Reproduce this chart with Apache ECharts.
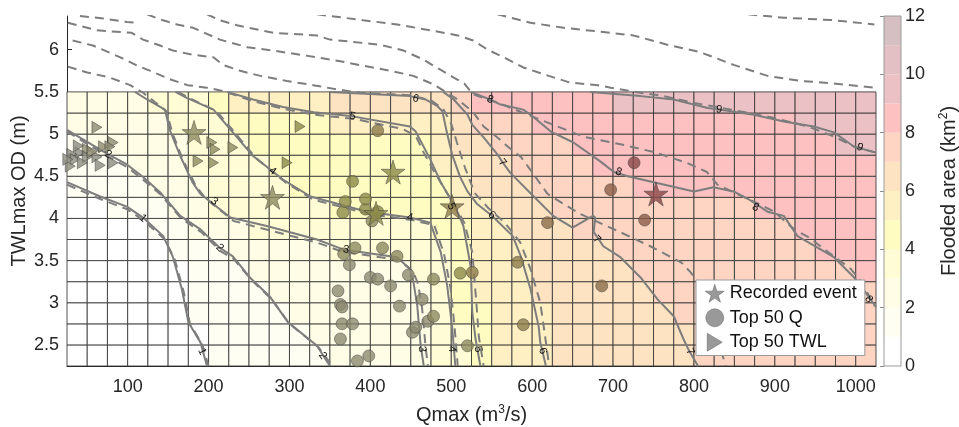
<!DOCTYPE html>
<html><head><meta charset="utf-8">
<script src="https://cdn.jsdelivr.net/npm/echarts@6/dist/echarts.min.js"></script>
<style>html,body{margin:0;padding:0;background:#fff}#c{width:959px;height:427px}</style>
</head><body><div id="c"></div>
<script>
// ---------- DATA ----------
const qCenters = [37.5,62.5,87.5,112.5,137.5,162.5,187.5,212.5,237.5,262.5,287.5,312.5,337.5,362.5,387.5,412.5,437.5,462.5,487.5,512.5,537.5,562.5,587.5,612.5,637.5,662.5,687.5,712.5,737.5,762.5,787.5,812.5,837.5,862.5,887.5,912.5,937.5,962.5,987.5,1012.5];
const twlCenters = [2.375,2.625,2.875,3.125,3.375,3.625,3.875,4.125,4.375,4.625,4.875,5.125,5.375];
// flooded area (km2) per cell, one row per TWL band (bottom to top)
const floodedArea = [
[0.10,0.24,0.37,0.51,0.64,0.78,0.91,1.06,1.24,1.41,1.59,1.77,1.95,2.13,2.33,2.52,2.71,2.90,3.31,3.93,4.78,5.24,5.55,5.87,6.08,6.22,6.36,6.50,6.64,6.78,6.91,7.03,7.12,7.20,7.29,7.37,7.46,7.54,7.63,7.71],
[0.15,0.29,0.43,0.57,0.71,0.85,0.99,1.19,1.39,1.59,1.79,1.99,2.15,2.31,2.47,2.62,2.78,2.94,3.37,3.99,4.90,5.28,5.59,5.91,6.10,6.25,6.39,6.54,6.69,6.83,6.98,7.08,7.17,7.26,7.35,7.44,7.54,7.63,7.72,7.81],
[0.22,0.35,0.49,0.62,0.76,0.89,1.04,1.27,1.49,1.72,1.95,2.11,2.25,2.39,2.53,2.67,2.82,2.96,3.44,4.09,4.98,5.32,5.65,5.98,6.15,6.31,6.47,6.62,6.78,6.94,7.06,7.16,7.25,7.35,7.44,7.54,7.63,7.73,7.82,7.92],
[0.28,0.41,0.54,0.67,0.80,0.93,1.12,1.39,1.66,1.93,2.09,2.22,2.35,2.47,2.60,2.73,2.85,2.98,3.53,4.20,5.01,5.36,5.72,6.03,6.21,6.38,6.56,6.73,6.91,7.05,7.14,7.24,7.33,7.42,7.52,7.61,7.71,7.80,7.90,7.99],
[0.35,0.47,0.60,0.72,0.84,0.97,1.23,1.56,1.88,2.08,2.20,2.32,2.45,2.57,2.69,2.82,2.94,3.24,3.73,4.33,5.04,5.42,5.81,6.10,6.30,6.50,6.70,6.90,7.05,7.14,7.23,7.33,7.42,7.52,7.61,7.71,7.80,7.90,7.99,8.10],
[0.45,0.56,0.68,0.79,0.90,1.07,1.51,1.95,2.17,2.36,2.55,2.74,2.93,3.11,3.28,3.45,3.62,3.79,3.96,4.51,5.12,5.54,5.95,6.21,6.45,6.69,6.93,7.07,7.17,7.27,7.37,7.47,7.56,7.66,7.76,7.86,7.96,8.05,8.13,8.22],
[0.60,0.71,0.81,0.92,1.10,1.60,2.09,2.49,2.89,3.08,3.20,3.31,3.42,3.53,3.65,3.76,3.87,3.99,4.38,4.81,5.33,5.92,6.28,6.60,6.92,7.07,7.16,7.24,7.33,7.42,7.51,7.60,7.69,7.78,7.87,7.95,8.04,8.13,8.22,8.31],
[0.80,0.91,1.08,1.41,1.73,2.09,2.59,3.03,3.22,3.41,3.59,3.78,3.96,4.12,4.27,4.42,4.57,4.72,4.86,5.08,5.98,6.32,6.64,6.96,7.08,7.18,7.28,7.37,7.47,7.57,7.66,7.76,7.85,7.95,8.04,8.11,8.19,8.27,8.35,8.42],
[1.10,1.34,1.59,1.83,2.12,2.55,2.97,3.21,3.44,3.67,3.89,4.07,4.19,4.32,4.45,4.57,4.70,4.83,4.96,5.61,6.22,6.59,6.97,7.16,7.34,7.52,7.70,7.87,8.02,8.08,8.14,8.20,8.26,8.32,8.38,8.44,8.51,8.57,8.63,8.69],
[1.52,1.75,1.97,2.25,2.54,2.83,3.12,3.40,3.68,3.96,4.10,4.21,4.33,4.44,4.56,4.67,4.79,4.90,5.12,5.95,6.42,6.86,7.15,7.37,7.58,7.80,8.00,8.07,8.14,8.21,8.28,8.35,8.42,8.49,8.56,8.62,8.69,8.76,8.83,8.90],
[1.97,2.13,2.34,2.55,2.76,2.97,3.27,3.59,3.91,4.08,4.19,4.30,4.41,4.52,4.63,4.74,4.86,4.97,5.47,6.12,6.73,7.15,7.41,7.68,7.95,8.06,8.13,8.20,8.28,8.35,8.42,8.49,8.56,8.64,8.71,8.78,8.85,8.92,9.01,9.07],
[2.20,2.36,2.53,2.69,2.86,3.05,3.45,3.85,4.12,4.31,4.50,4.70,4.89,5.07,5.24,5.40,5.57,5.74,5.90,6.37,7.09,7.42,7.74,8.02,8.11,8.21,8.30,8.40,8.49,8.59,8.68,8.77,8.84,8.90,8.94,8.97,9.02,9.16,9.25,9.34],
[2.45,2.61,2.78,2.94,3.32,3.82,3.90,4.64,5.02,5.21,5.41,5.61,5.80,6.00,6.18,6.36,6.54,6.71,6.89,7.29,8.01,8.18,8.34,8.51,8.68,8.85,8.97,9.06,9.11,9.17,9.22,9.27,9.33,9.38,9.43,9.49,9.54,9.59,9.64,9.70]
];
const xTicks = [100,200,300,400,500,600,700,800,900,1000];
const yTicks = [2.5,3,3.5,4,4.5,5,5.5,6];
const cbTicks = [0,2,4,6,8,10,12];
const cbBands = [0,1,2,3,4,5,6,7,8,9,10,11];

// solid contours (flooded area levels 1..9)
const solid1 = [[25,4.43],[66,4.26],[99,4.14],[119,4.01],[144,3.79],[156,3.54],[167,3.16],[175,2.77],[190,2.53],[198,2.25]];
const solid2 = [[25,5.05],[76,4.76],[99,4.64],[119,4.49],[140,4.31],[165,4.03],[190,3.87],[214,3.65],[230,3.55],[251,3.30],[276,3.07],[298,2.77],[334,2.49],[350,2.25]];
const solid3 = [[109,5.50],[124,5.41],[146,5.29],[152,5.05],[165,4.74],[180,4.43],[190,4.29],[227,4.01],[272,3.91],[334,3.75],[367,3.63],[381,3.61],[433,3.54],[449,3.40],[453,3.26],[458,2.96],[462,2.51],[466,2.25]];
const solid4 = [[159,5.50],[173,5.43],[206,5.29],[230,5.02],[255,4.74],[279,4.56],[292,4.46],[326,4.26],[396,4.08],[449,4.01],[474,3.95],[487,3.60],[495,3.20],[501,2.72],[505,2.25]];
const solid5 = [[223,5.50],[255,5.41],[292,5.32],[330,5.26],[378,5.21],[449,5.09],[456,5.03],[474,4.70],[487,4.43],[499,4.23],[508,4.07],[515,3.91],[524,3.43],[526,2.89],[530,2.57],[536,2.25]];
const solid6 = [[350,5.50],[449,5.45],[468,5.41],[483,5.33],[489,5.27],[495,5.00],[501,4.76],[511,4.49],[520,4.32],[532,4.17],[548,4.05],[557,3.97],[576,3.79],[586,3.55],[598,3.16],[608,2.72],[610,2.53],[617,2.25]];
const solid7 = [[490,5.50],[503,5.41],[520,5.23],[526,5.11],[540,4.96],[557,4.76],[563,4.67],[573,4.54],[602,4.26],[626,4.03],[650,3.89],[675,4.03],[678,4.01],[676,3.84],[688,3.67],[709,3.54],[734,3.30],[755,3.04],[775,2.84],[787,2.57],[794,2.43],[805,2.25]];
const solid8 = [[524,5.50],[548,5.41],[561,5.35],[589,5.29],[602,5.20],[623,5.03],[651,4.90],[685,4.67],[701,4.55],[718,4.50],[800,4.32],[824,4.37],[849,4.32],[867,4.23],[891,4.08],[911,4.03],[928,3.79],[973,3.54],[998,3.30],[1016,3.07],[1025,2.95]];
const solid9 = [[672,5.50],[734,5.45],[775,5.41],[817,5.31],[831,5.29],[874,5.23],[911,5.15],[948,5.09],[973,5.02],[998,4.85],[1025,4.78]];

// dashed contours
const dashed1 = [[25,4.40],[66,4.23],[99,4.11],[119,3.98],[145,3.76],[158,3.52],[169,3.14],[177,2.75],[192,2.51],[200,2.25]];
const dashed2 = [[25,5.03],[76,4.73],[99,4.61],[119,4.46],[141,4.28],[166,4.00],[192,3.83],[215,3.61],[231,3.52],[253,3.27],[278,3.04],[300,2.75],[336,2.47],[353,2.25]];
const dashed3 = [[26,5.80],[50,5.73],[78,5.67],[103,5.58],[119,5.49],[131,5.40],[148,5.27],[155,5.02],[168,4.70],[184,4.39],[196,4.24],[231,3.97],[275,3.86],[335,3.71],[367,3.60],[383,3.58],[435,3.51],[453,3.37],[459,3.22],[464,2.93],[468,2.50],[471,2.25]];
const dashed4 = [[162,5.50],[178,5.42],[210,5.27],[234,5.00],[258,4.72],[282,4.53],[296,4.42],[330,4.22],[400,4.05],[452,3.98],[479,3.92],[491,3.58],[499,3.18],[504,2.72],[508,2.25]];
const dashed5 = [[32,6.11],[57,6.05],[91,5.91],[112,5.81],[128,5.75],[152,5.65],[174,5.58],[198,5.55],[218,5.51],[255,5.39],[292,5.30],[330,5.23],[380,5.18],[440,5.06],[456,4.98],[466,4.78],[479,4.55],[491,4.36],[504,4.16],[516,3.95],[526,3.60],[531,3.00],[534,2.60],[540,2.25]];
const dashed6 = [[26,6.32],[62,6.23],[105,6.20],[119,6.12],[140,6.05],[156,5.99],[181,5.94],[206,5.91],[218,5.82],[239,5.75],[264,5.69],[297,5.63],[329,5.58],[359,5.53],[387,5.49],[449,5.46],[475,5.40],[490,5.30],[500,5.12],[507,4.90],[517,4.60],[529,4.30],[546,4.12],[566,3.95],[585,3.72],[598,3.40],[610,3.00],[616,2.60],[621,2.25]];
const dashed7 = [[124,6.42],[140,6.36],[161,6.30],[181,6.26],[214,6.12],[248,6.03],[280,5.99],[334,5.91],[359,5.87],[391,5.81],[425,5.75],[453,5.69],[478,5.59],[493,5.50],[508,5.41],[527,5.26],[540,5.09],[557,4.96],[570,4.85],[586,4.73],[596,4.60],[619,4.29],[639,4.17],[660,4.05],[706,3.85],[746,3.67],[784,3.48],[796,3.36],[805,3.24],[823,2.81],[839,2.25]];
const dashed8 = [[198,6.42],[214,6.35],[235,6.29],[280,6.20],[334,6.17],[350,6.12],[412,6.06],[441,5.99],[466,5.88],[487,5.76],[503,5.67],[516,5.60],[527,5.47],[561,5.36],[594,5.23],[626,5.11],[663,4.97],[709,4.88],[749,4.79],[791,4.66],[816,4.55],[829,4.40],[849,4.31],[874,4.20],[899,4.08],[924,3.87],[941,3.78],[973,3.55],[994,3.40],[1009,3.22],[1023,2.96]];
const dashed9 = [[334,6.42],[391,6.35],[433,6.30],[474,6.23],[508,6.17],[527,6.11],[545,6.00],[565,5.91],[589,5.79],[614,5.71],[647,5.61],[681,5.58],[697,5.55],[734,5.49],[763,5.45],[800,5.37],[846,5.29],[895,5.20],[941,5.09],[973,4.97],[998,4.85],[1025,4.78]];
const dashed10 = [[557,6.42],[598,6.32],[639,6.26],[688,6.21],[725,6.17],[767,6.06],[808,5.97],[849,5.82],[891,5.69],[932,5.63],[973,5.60],[1023,5.55]];
const dashed11 = [[867,6.42],[911,6.38],[973,6.35],[1023,6.30]];
const dashed12 = [[41,6.40],[70,6.37],[99,6.33],[112,6.32]];

// contour labels: [Qmax, TWLmax, level]
const contourLabels = [[119,4.00,1],[192,2.42,1],[76,4.76,2],[214,3.65,2],[341,2.37,2],[207,4.20,3],[370,3.63,3],[464,2.45,3],[279,4.56,4],[449,4.01,4],[501,2.45,4],[378,5.21,5],[500,4.14,5],[533,2.45,5],[456,5.42,6],[550,4.04,6],[613,2.43,6],[563,4.66,7],[680,3.75,7],[795,2.42,7],[548,5.41,8],[707,4.55,8],[876,4.13,8],[1016,3.04,8],[831,5.29,9],[1005,4.84,9]];

// events
const recordedEvents = [[182,5.02],[279,4.25],[428,4.55],[407,4.06],[501,4.14],[753,4.29]];
const top50Q = [[366,4.07],[394,4.11],[409,4.08],[402,3.97],[415,3.65],[381,3.65],[367,3.58],[374,3.45],[433,3.55],[400,3.30],[409,3.28],[425,3.20],[360,3.14],[363,2.98],[365,2.95],[436,2.96],[464,3.04],[478,3.28],[447,3.33],[365,2.75],[378,2.75],[452,2.65],[456,2.71],[471,2.78],[478,2.84],[363,2.57],[384,2.31],[398,2.37],[511,3.35],[526,3.36],[520,2.49],[582,3.48],[589,2.74],[619,3.95],[686,3.20],[409,5.04],[378,4.44],[369,4.20],[394,4.23],[726,4.66],[697,4.34],[739,3.98]];
const top50TWL = [[62,5.08],[82,4.90],[70,4.85],[50,4.82],[41,4.78],[31,4.76],[50,4.73],[62,4.73],[35,4.70],[44,4.66],[29,4.62],[82,4.66],[78,4.85],[56,4.79],[39,4.86],[26,4.70],[66,4.63],[204,4.90],[208,4.82],[187,4.68],[206,4.66],[230,4.84],[297,4.66],[313,5.09]];

// ---------- STYLE ----------
const FONT = 'Liberation Sans, Arial, Helvetica, sans-serif';
const bandColors = ['#ffffff','#fffef3','#fffde6','#fffcd6','#fffcc2','#fff0c3','#fee3c3','#fed5c2','#fdc1c1','#ecc1c5','#e2c0c4','#d5bfc2'];
const labelAngles = [-40,-66,-32,-43,-55,-37,-10,-85,-37,-10,-86,-10,-62,-80,-15,-40,-75,-50,-45,-65,-20,-20,-25,-55,-10,-20];
const STAR = 'path://M50,0 L61,35 L98,35 L68,57 L79,91 L50,70 L21,91 L32,57 L2,35 L39,35 Z';
const TRI = 'path://M0,0 L10,6 L0,12 Z';

function bandColor(v){ return bandColors[Math.max(0, Math.min(11, Math.floor(v)))]; }
const dq = qCenters[1]-qCenters[0], dt = twlCenters[1]-twlCenters[0];
function valueAt(x,y){
  const c = Math.max(0, Math.min(qCenters.length-1, Math.floor((x-(qCenters[0]-dq/2))/dq)));
  const r = Math.max(0, Math.min(twlCenters.length-1, Math.floor((y-(twlCenters[0]-dt/2))/dt)));
  return floodedArea[r][c];
}
function markerColor(x,y){
  const h = bandColor(valueAt(x,y));
  const ch = [1,3,5].map(i => parseInt(h.substr(i,2),16));
  const s = ch.map(v => Math.max(0, 2*v-255) * 0.55);
  return 'rgb(' + s.map(Math.round).join(',') + ')';
}

const heatData = [];
twlCenters.forEach((y, r) => qCenters.forEach((x, c) => heatData.push([x, y, floodedArea[r][c]])));

const series = [];
series.push({
  type:'custom', name:'heat', xAxisIndex:0, yAxisIndex:0, z:1, silent:true, data: heatData,
  renderItem(params, api){
    const x = api.value(0), y = api.value(1), v = api.value(2);
    const p0 = api.coord([x-dq/2, y+dt/2]);
    const p1 = api.coord([x+dq/2, y-dt/2]);
    return {type:'rect', shape:{x:p0[0], y:p0[1], width:p1[0]-p0[0], height:p1[1]-p0[1]},
      style:{fill:bandColor(v), stroke:'#353535', lineWidth:0.85}};
  }
});
[solid1,solid2,solid3,solid4,solid5,solid6,solid7,solid8,solid9].forEach(d => series.push({
  type:'line', data:d, symbol:'none', silent:true, z:3, lineStyle:{color:'#7d7d7d', width:2}
}));
[dashed1,dashed2,dashed3,dashed4,dashed5,dashed6,dashed7,dashed8,dashed9,dashed10,dashed11,dashed12].forEach(d => series.push({
  type:'line', data:d, symbol:'none', silent:true, z:3, lineStyle:{color:'#7d7d7d', width:2, type:[9,6]}
}));
series.push({
  type:'custom', name:'labels', z:6, silent:true, data: contourLabels,
  renderItem(params, api){
    const p = api.coord([api.value(0), api.value(1)]);
    return {type:'text', x:p[0], y:p[1], rotation: labelAngles[params.dataIndex]*Math.PI/180,
      style:{text: String(api.value(2)), fontSize:11, fontFamily:FONT, fill:'#111', align:'center', verticalAlign:'middle'}};
  }
});
series.push({type:'scatter', name:'Top 50 TWL', data: top50TWL, symbol: TRI, symbolSize:[10,12], z:5,
  itemStyle:{color: p => markerColor(p.value[0], p.value[1]), borderColor:'#3a3a3a', borderWidth:0.6}});
series.push({type:'scatter', name:'Top 50 Q', data: top50Q, symbol:'circle', symbolSize:12, z:5,
  itemStyle:{color: p => markerColor(p.value[0], p.value[1]), borderColor:'#3a3a3a', borderWidth:0.6}});
series.push({type:'scatter', name:'Recorded event', data: recordedEvents, symbol: STAR, symbolSize:24, z:5,
  itemStyle:{color: p => markerColor(p.value[0], p.value[1]), borderColor:'#3a3a3a', borderWidth:0.6}});
// colorbar
series.push({
  type:'custom', xAxisIndex:1, yAxisIndex:1, silent:true, data: cbBands, z:2,
  renderItem(params, api){
    const k = api.value(0);
    const p0 = api.coord([0, k+1]), p1 = api.coord([1, k]);
    return {type:'rect', shape:{x:p0[0], y:p0[1], width:p1[0]-p0[0], height:p1[1]-p0[1]}, style:{fill: bandColors[k]}};
  },
  encode:{x:-1, y:0}
});
series.push({
  type:'custom', xAxisIndex:1, yAxisIndex:1, silent:true, data:[[0]], z:3,
  renderItem(params, api){
    const p0 = api.coord([0, 12]), p1 = api.coord([1, 0]);
    return {type:'rect', shape:{x:p0[0], y:p0[1], width:p1[0]-p0[0], height:p1[1]-p0[1]}, style:{fill:'none', stroke:'#9a9a9a', lineWidth:1}};
  }
});

const tickText = {fontSize:18, color:'#262626', fontFamily:FONT};
const titleText = {fontSize:20, color:'#262626', fontFamily:FONT};
const supText = {fontSize:12, color:'#262626', fontFamily:FONT, padding:[0,0,10,0]};
const option = {
  animation:false,
  textStyle:{fontFamily:FONT},
  grid:[{left:67, top:16, width:809, height:350, outerBoundsMode:'none', containLabel:false},
        {left:884, top:16, width:17, height:350, outerBoundsMode:'none', containLabel:false}],
  xAxis:[
    {type:'value', gridIndex:0, min:25, max:1025,
     axisLine:{show:true, onZero:false, lineStyle:{color:'#262626', width:1}},
     axisTick:{show:true, inside:true, length:5, customValues:xTicks, lineStyle:{color:'#262626'}},
     axisLabel:Object.assign({customValues:xTicks, margin:12, formatter: v => String(v)}, tickText),
     splitLine:{show:false},
     name:'{a|Qmax (m}{s|3}{a|/s)}', nameLocation:'middle', nameGap:38,
     nameTextStyle:{rich:{a:titleText, s:supText}}},
    {type:'value', gridIndex:1, min:0, max:1, show:false}
  ],
  yAxis:[
    {type:'value', gridIndex:0, min:2.25, max:6.4,
     axisLine:{show:true, onZero:false, lineStyle:{color:'#262626', width:1}},
     axisTick:{show:true, inside:true, length:5, customValues:yTicks, lineStyle:{color:'#262626'}},
     axisLabel:Object.assign({customValues:yTicks, margin:8, formatter: v => String(v)}, tickText),
     splitLine:{show:false},
     name:'TWLmax OD (m)', nameLocation:'middle', nameGap:38, nameRotate:90, nameMoveOverlap:false, nameTextStyle:titleText},
    {type:'value', gridIndex:1, min:0, max:12, position:'right',
     axisLine:{show:false},
     axisTick:{show:true, inside:true, length:4, customValues:cbTicks, lineStyle:{color:'#8a8a8a'}},
     axisLabel:Object.assign({customValues:cbTicks, margin:4}, tickText),
     splitLine:{show:false},
     name:'{a|Flooded area (km}{s|2}{a|)}', nameLocation:'middle', nameGap:37, nameRotate:90,
     nameTextStyle:{rich:{a:titleText, s:supText}}}
  ],
  legend:{
    left:696, top:280, orient:'vertical', backgroundColor:'#fff', borderColor:'#9a9a9a', borderWidth:1,
    padding:[4,8,4,9], itemGap:6, itemWidth:20, itemHeight:18,
    textStyle:{fontSize:18, color:'#111', fontFamily:FONT},
    data:[
      {name:'Recorded event', icon:STAR, itemStyle:{color:'#7f7f7f', borderColor:'#444', borderWidth:0.5}},
      {name:'Top 50 Q', icon:'circle', itemStyle:{color:'#7f7f7f', borderColor:'#444', borderWidth:0.5}},
      {name:'Top 50 TWL', icon:TRI, itemStyle:{color:'#7f7f7f', borderColor:'#444', borderWidth:0.5}}
    ]
  },
  series: series
};
const chart = echarts.init(document.getElementById('c'), null, {renderer:'canvas'});
chart.setOption(option);
</script>
</body></html>
